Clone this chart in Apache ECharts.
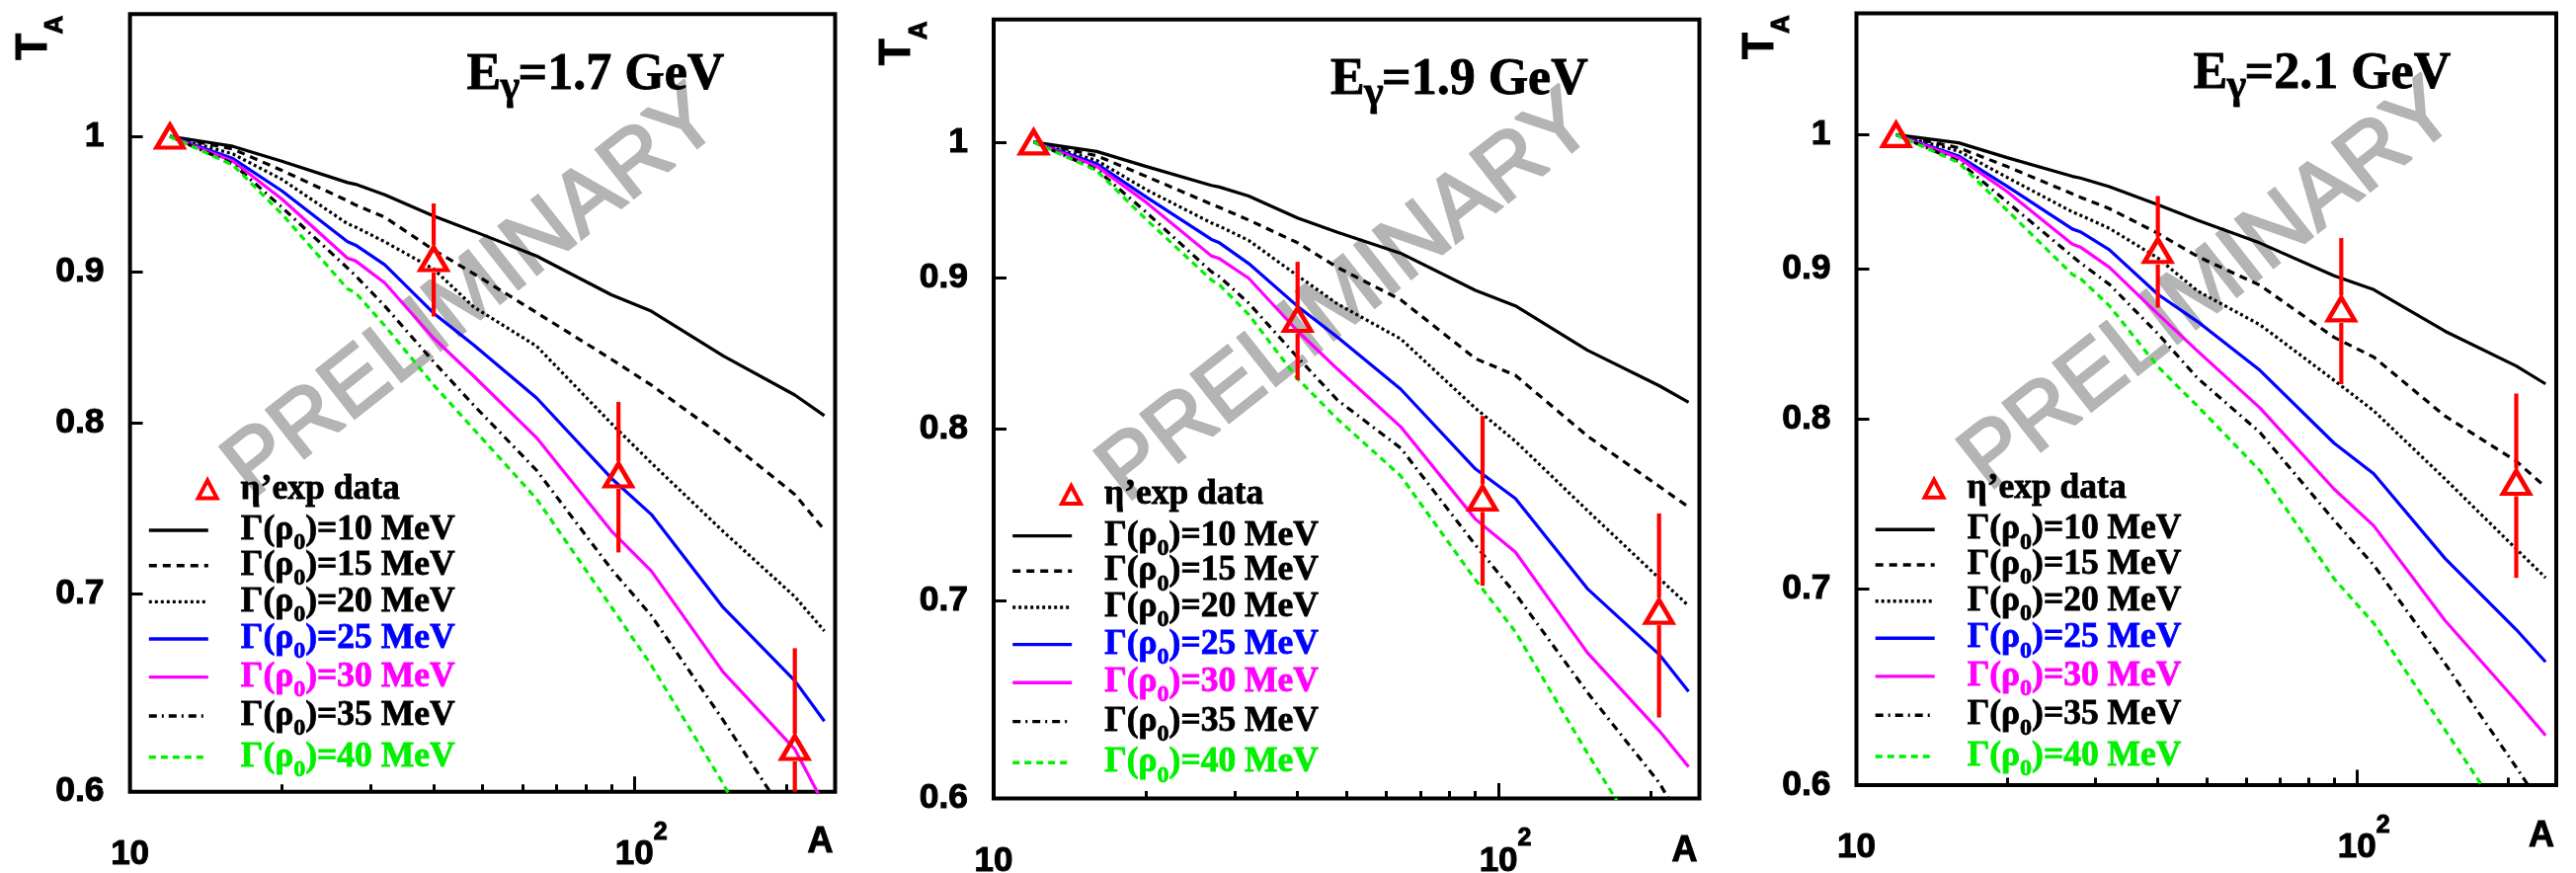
<!DOCTYPE html>
<html>
<head>
<meta charset="utf-8">
<script src="https://cdn.jsdelivr.net/npm/echarts@6.0.0/dist/echarts.min.js"></script>
<style>
  html, body { margin: 0; padding: 0; background: #ffffff; }
  #chart { width: 2608px; height: 884px; }
</style>
</head>
<body>
<div id="chart"></div>
<script>
// Mass numbers A at which the transparency ratio curves are tabulated
const A_NODES = [12, 16, 20, 27, 28, 32, 40, 48, 64, 90, 108, 150, 208, 238];

// In-medium widths Gamma(rho_0) in MeV, one curve each
const WIDTH_MEV = [10, 15, 20, 25, 30, 35, 40];

// Photon energies of the three panels (GeV)
const ENERGY_GEV = ['1.7', '1.9', '2.1'];

// T_A model curves, E_gamma = 1.7 GeV
const T17_W10 = [1, 0.9922, 0.9808, 0.9646, 0.9633, 0.9555, 0.9397, 0.9287, 0.9109, 0.8838, 0.8726, 0.8427, 0.8174, 0.8044];
const T17_W15 = [1, 0.9901, 0.9738, 0.9510, 0.9479, 0.9389, 0.9152, 0.8985, 0.8716, 0.8405, 0.8238, 0.7910, 0.7564, 0.7359];
const T17_W20 = [1, 0.9863, 0.9670, 0.9341, 0.9317, 0.9211, 0.9017, 0.8755, 0.8491, 0.7995, 0.7753, 0.7349, 0.6985, 0.6801];
const T17_W25 = [1, 0.9828, 0.9584, 0.9211, 0.9187, 0.9047, 0.8712, 0.8500, 0.8155, 0.7661, 0.7448, 0.6926, 0.6542, 0.6339];
const T17_W30 = [1, 0.9808, 0.9523, 0.9093, 0.9075, 0.8920, 0.8544, 0.8296, 0.7906, 0.7353, 0.7127, 0.6586, 0.6202, 0.5937];
const T17_W35 = [1, 0.9788, 0.9462, 0.9024, 0.8971, 0.8761, 0.8388, 0.8110, 0.7708, 0.7137, 0.6883, 0.6344, 0.5825, 0.5600];
const T17_W40 = [1, 0.9778, 0.9413, 0.8879, 0.8852, 0.8628, 0.8238, 0.7960, 0.7538, 0.6930, 0.6622, 0.6038, 0.5430, 0.5160];

// T_A model curves, E_gamma = 1.9 GeV
const T19_W10 = [1, 0.9927, 0.9813, 0.9668, 0.9656, 0.9589, 0.9426, 0.9322, 0.9171, 0.8910, 0.8803, 0.8504, 0.8273, 0.8167];
const T19_W15 = [1, 0.9894, 0.9738, 0.9528, 0.9504, 0.9411, 0.9246, 0.9070, 0.8845, 0.8449, 0.8340, 0.7955, 0.7650, 0.7527];
const T19_W20 = [1, 0.9858, 0.9638, 0.9390, 0.9366, 0.9263, 0.9012, 0.8816, 0.8580, 0.8129, 0.7923, 0.7507, 0.7122, 0.6970];
const T19_W25 = [1, 0.9833, 0.9584, 0.9270, 0.9246, 0.9098, 0.8800, 0.8590, 0.8251, 0.7754, 0.7578, 0.7064, 0.6712, 0.6521];
const T19_W30 = [1, 0.9813, 0.9545, 0.9152, 0.9133, 0.8994, 0.8632, 0.8380, 0.8013, 0.7457, 0.7268, 0.6721, 0.6325, 0.6149];
const T19_W35 = [1, 0.9788, 0.9472, 0.9040, 0.9005, 0.8822, 0.8457, 0.8180, 0.7881, 0.7308, 0.7036, 0.6516, 0.6075, 0.5840];
const T19_W40 = [1, 0.9780, 0.9419, 0.8982, 0.8948, 0.8744, 0.8317, 0.8060, 0.7712, 0.7113, 0.6831, 0.6215, 0.5680, 0.5440];

// T_A model curves, E_gamma = 2.1 GeV
const T21_W10 = [1, 0.9936, 0.9821, 0.9678, 0.9665, 0.9600, 0.9465, 0.9350, 0.9184, 0.8951, 0.8854, 0.8569, 0.8338, 0.8222];
const T21_W15 = [1, 0.9898, 0.9753, 0.9546, 0.9521, 0.9436, 0.9255, 0.9088, 0.8884, 0.8528, 0.8397, 0.8016, 0.7738, 0.7582];
const T21_W20 = [1, 0.9872, 0.9670, 0.9411, 0.9387, 0.9291, 0.9077, 0.8845, 0.8613, 0.8245, 0.8050, 0.7630, 0.7222, 0.7061];
const T21_W25 = [1, 0.9834, 0.9603, 0.9286, 0.9266, 0.9136, 0.8822, 0.8635, 0.8310, 0.7848, 0.7662, 0.7168, 0.6779, 0.6609];
const T21_W30 = [1, 0.9819, 0.9563, 0.9176, 0.9155, 0.9011, 0.8687, 0.8438, 0.8068, 0.7570, 0.7355, 0.6827, 0.6410, 0.6238];
const T21_W35 = [1, 0.9793, 0.9485, 0.9089, 0.9042, 0.8891, 0.8553, 0.8260, 0.7914, 0.7386, 0.7131, 0.6599, 0.6084, 0.5877];
const T21_W40 = [1, 0.9783, 0.9423, 0.8960, 0.8933, 0.8743, 0.8335, 0.8080, 0.7680, 0.7055, 0.6813, 0.6264, 0.5760, 0.5526];

// eta' measurements (C, Ca, Nb, Pb), normalised to carbon
const EXP_A = [12, 40, 93, 208];
const EXP_T17 = [1, 0.909, 0.768, 0.621];
const EXP_ERR17 = [0, 0.040, 0.045, 0.050];
const EXP_T19 = [1, 0.871, 0.758, 0.694];
const EXP_ERR19 = [0, 0.040, 0.050, 0.055];
const EXP_T21 = [1, 0.913, 0.872, 0.761];
const EXP_ERR21 = [0, 0.040, 0.050, 0.055];

// Axis ticks
const X_MAJOR = [10, 100];
const X_MINOR = [20, 30, 40, 50, 60, 70, 80, 90, 200];
const Y_TICKS = [0.6, 0.7, 0.8, 0.9, 1];

const CURVES = [
  [T17_W10, T17_W15, T17_W20, T17_W25, T17_W30, T17_W35, T17_W40],
  [T19_W10, T19_W15, T19_W20, T19_W25, T19_W30, T19_W35, T19_W40],
  [T21_W10, T21_W15, T21_W20, T21_W25, T21_W30, T21_W35, T21_W40]
];
const EXP_T = [EXP_T17, EXP_T19, EXP_T21];
const EXP_ERR = [EXP_ERR17, EXP_ERR19, EXP_ERR21];

// ---- layout and styling ----
const PANELS = [
  { left: 131.6, top: 14.2, width: 713.9, height: 787.5, wm: [478.6, 297.4], aY: 852.7 },
  { left: 1006.0, top: 19.8, width: 714.5, height: 788.7, wm: [1363.9, 301.6], aY: 862.0 },
  { left: 1879.5, top: 13.5, width: 708.5, height: 781.4, wm: [2236.8, 290.3], aY: 847.0 }
];

const LINE_LOOK = [
  { color: '#000000', dash: 'solid' },
  { color: '#000000', dash: [8, 6] },
  { color: '#000000', dash: [3, 3] },
  { color: '#0000ff', dash: 'solid' },
  { color: '#ff00ff', dash: 'solid' },
  { color: '#000000', dash: [8, 5, 2, 5] },
  { color: '#00f000', dash: [7, 5] }
];
const LEGEND_TEXT_COLOR = ['#000000', '#000000', '#000000', '#0000ff', '#ff00ff', '#000000', '#00f000'];

const DATA_NAME = 'η’exp data';
const curveName = w => 'Γ(ρ0)=' + w + ' MeV';

// vertical centre of each legend row, measured from the top of the frame
const LEGEND_DATA_ROW = 480.8;
const LEGEND_ROWS = [515.8, 551.5, 588.2, 625.8, 664.4, 703.8, 745.5];

const SANS = 'Liberation Sans';
const SERIF = 'Liberation Serif';

function legendText(color) {
  return {
    fontFamily: SERIF, fontWeight: 'bold', fontSize: 35.5, lineHeight: 36, color: color,
    textBorderColor: color, textBorderWidth: 0.8,
    rich: {
      s: { fontFamily: SERIF, fontWeight: 'bold', fontSize: 24, lineHeight: 20, color: color,
           textBorderColor: color, textBorderWidth: 0.8, padding: [26, 0, 0, 0] }
    }
  };
}

// x labels: 10, 10^2 written as a power of ten
function xLabel(v) {
  const e = Math.round(Math.log10(v));
  return e === 1 ? '{b|10}' : '{p| }{b|10}{sup|' + e + '}';
}

const grid = [], xAxis = [], yAxis = [], series = [], legend = [], graphic = [];

PANELS.forEach((P, p) => {
  grid.push({
    left: P.left, top: P.top, width: P.width, height: P.height,
    show: true, borderColor: '#000000', borderWidth: 4, backgroundColor: 'rgba(0,0,0,0)',
    containLabel: false, outerBoundsMode: 'none'
  });

  // bottom axis carrying the decade ticks and labels
  xAxis.push({
    gridIndex: p, type: 'log', logBase: 10, min: 10, max: 250, position: 'bottom',
    axisLine: { show: false }, splitLine: { show: false }, minorTick: { show: false },
    axisTick: { show: true, inside: true, length: 15.5, customValues: X_MAJOR, lineStyle: { color: '#000000', width: 3 } },
    axisLabel: {
      show: true, customValues: X_MAJOR, margin: 28.5, color: '#000000', formatter: xLabel,
      rich: {
        b: { fontFamily: SANS, fontWeight: 'bold', fontSize: 35, lineHeight: 70, color: '#000000', textBorderColor: '#000000', textBorderWidth: 1 },
        sup: { fontFamily: SANS, fontWeight: 'bold', fontSize: 25, verticalAlign: 'top', color: '#000000', textBorderColor: '#000000', textBorderWidth: 1 },
        p: { width: 13.9, fontSize: 25 }
      }
    }
  });
  // second bottom axis for the shorter intermediate ticks
  xAxis.push({
    gridIndex: p, type: 'log', logBase: 10, min: 10, max: 250, position: 'bottom', offset: 0,
    axisLine: { show: false }, splitLine: { show: false }, axisLabel: { show: false },
    axisTick: { show: true, inside: true, length: 7.5, customValues: X_MINOR, lineStyle: { color: '#000000', width: 3 } }
  });

  yAxis.push({
    gridIndex: p, type: 'log', logBase: 10, min: 0.6, max: 1.1, position: 'left',
    axisLine: { show: false }, splitLine: { show: false }, minorTick: { show: false },
    axisTick: { show: true, inside: true, length: 13, customValues: Y_TICKS, lineStyle: { color: '#000000', width: 3 } },
    axisLabel: {
      show: true, customValues: Y_TICKS, margin: 26, color: '#000000',
      fontFamily: SANS, fontWeight: 'bold', fontSize: 35.5,
      textBorderColor: '#000000', textBorderWidth: 1,
      formatter: v => String(+Number(v).toFixed(2))
    }
  });

  // model curves
  CURVES[p].forEach((vals, k) => {
    series.push({
      type: 'line', name: curveName(WIDTH_MEV[k]), xAxisIndex: 2 * p, yAxisIndex: p,
      data: A_NODES.map((a, i) => [a, vals[i]]),
      symbol: 'none', smooth: false, clip: true, silent: true, z: 3,
      lineStyle: { color: LINE_LOOK[k].color, width: 3.2, type: LINE_LOOK[k].dash, cap: 'butt' },
      itemStyle: { color: LINE_LOOK[k].color }
    });
  });

  // error bars, drawn outside the marker outline
  series.push({
    type: 'custom', xAxisIndex: 2 * p, yAxisIndex: p, silent: true, z: 5,
    data: EXP_A.map((a, i) => [a, EXP_T[p][i], EXP_ERR[p][i]]),
    renderItem: (params, api) => {
      const err = api.value(2);
      if (!err) return null;
      const a = api.value(0), t = api.value(1);
      const c = api.coord([a, t]);
      const hi = api.coord([a, t + err]);
      const lo = api.coord([a, t - err]);
      const cs = params.coordSys;
      const clampY = y => Math.max(cs.y, Math.min(cs.y + cs.height, y));
      const gap = 14;
      const st = { stroke: '#ff0000', lineWidth: 4.2 };
      return {
        type: 'group',
        children: [
          { type: 'line', shape: { x1: c[0], y1: clampY(hi[1]), x2: c[0], y2: clampY(c[1] - gap) }, style: st },
          { type: 'line', shape: { x1: c[0], y1: clampY(c[1] + gap), x2: c[0], y2: clampY(lo[1]) }, style: st }
        ]
      };
    }
  });

  // eta' data points
  series.push({
    type: 'scatter', name: DATA_NAME, xAxisIndex: 2 * p, yAxisIndex: p, z: 6, silent: true,
    data: EXP_A.map((a, i) => [a, EXP_T[p][i]]),
    symbol: 'triangle', symbolSize: [27, 23],
    itemStyle: { color: 'rgba(0,0,0,0)', borderColor: '#ff0000', borderWidth: 4.5, borderJoin: 'miter', opacity: 1 }
  });

  // legend: one row per entry
  legend.push({
    left: P.left + 67, top: P.top + LEGEND_DATA_ROW - 18, padding: 0, orient: 'horizontal',
    itemWidth: 19, itemHeight: 18, selectedMode: false, data: [DATA_NAME],
    itemStyle: { color: 'rgba(0,0,0,0)', borderColor: '#ff0000', borderWidth: 4, borderJoin: 'miter' },
    textStyle: Object.assign(legendText('#000000'), { padding: [0, 0, 0, 19] })
  });
  WIDTH_MEV.forEach((w, k) => {
    legend.push({
      left: P.left + 17.5, top: P.top + LEGEND_ROWS[k] - 18, padding: 0, orient: 'horizontal',
      itemWidth: 60, itemHeight: 14, selectedMode: false, data: [curveName(w)],
      formatter: name => name.replace('ρ0', 'ρ{s|0}'),
      lineStyle: { color: LINE_LOOK[k].color, width: 3.4, type: LINE_LOOK[k].dash },
      itemStyle: { color: 'rgba(0,0,0,0)', borderColor: 'rgba(0,0,0,0)', borderWidth: 0 },
      textStyle: Object.assign(legendText(LEGEND_TEXT_COLOR[k]), { padding: [0, 0, 0, 28] })
    });
  });

  // PRELIMINARY watermark
  graphic.push({
    type: 'text', x: P.wm[0], y: P.wm[1], rotation: 38.3 * Math.PI / 180, z: 1, silent: true,
    style: {
      text: 'PRELIMINARY', fontFamily: SANS, fontWeight: 'normal', fontSize: 90,
      fill: '#b4b4b4', stroke: '#b4b4b4', lineWidth: 2.8, align: 'center', verticalAlign: 'middle'
    }
  });

  // panel title E_gamma = ... GeV
  const titleStyle = { fontFamily: SERIF, fontWeight: 'bold', fill: '#000000', stroke: '#000000', lineWidth: 0.8, align: 'left', verticalAlign: 'middle' };
  graphic.push({
    type: 'text', x: P.left + 341, y: P.top + 62, z: 10, silent: true,
    style: Object.assign({ text: 'E', fontSize: 52 }, titleStyle)
  });
  graphic.push({
    type: 'text', x: P.left + 375, y: P.top + 75, z: 10, silent: true,
    style: Object.assign({ text: 'γ', fontSize: 42 }, titleStyle)
  });
  graphic.push({
    type: 'text', x: P.left + 393, y: P.top + 62, z: 10, silent: true,
    style: Object.assign({ text: '=' + ENERGY_GEV[p] + ' GeV', fontSize: 52 }, titleStyle)
  });

  // axis titles T_A and A
  const axisTitleStyle = { fontFamily: SANS, fontWeight: 'bold', fill: '#000000', stroke: '#000000', lineWidth: 1, verticalAlign: 'middle' };
  graphic.push({
    type: 'text', x: P.left - 97, y: P.top + 33, rotation: Math.PI / 2, z: 10, silent: true,
    style: Object.assign({ text: 'T', fontSize: 44, align: 'center' }, axisTitleStyle)
  });
  graphic.push({
    type: 'text', x: P.left - 75.5, y: P.top + 11, rotation: Math.PI / 2, z: 10, silent: true,
    style: Object.assign({ text: 'A', fontSize: 26, align: 'center' }, axisTitleStyle)
  });
  graphic.push({
    type: 'text', x: P.left + P.width - 2, y: P.aY, z: 10, silent: true,
    style: Object.assign({ text: 'A', fontSize: 36, align: 'right' }, axisTitleStyle)
  });
});

const chart = echarts.init(document.getElementById('chart'), null, { renderer: 'canvas', width: 2608, height: 884 });
chart.setOption({
  backgroundColor: '#ffffff',
  animation: false,
  grid, xAxis, yAxis, series, legend,
  graphic: { elements: graphic }
});
</script>
</body>
</html>
